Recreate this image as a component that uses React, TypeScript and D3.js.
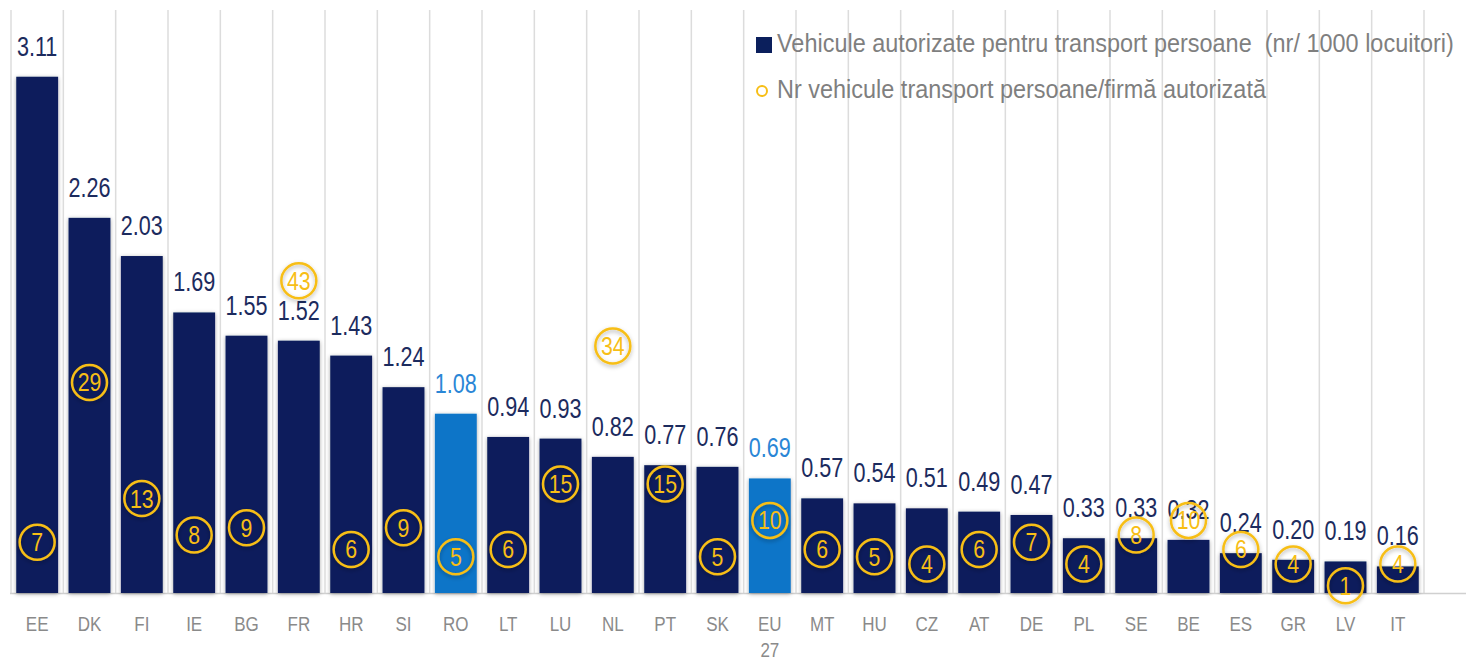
import React from "react";
import * as d3 from "d3";

const categories = ["EE","DK","FI","IE","BG","FR","HR","SI","RO","LT","LU","NL","PT","SK","EU 27","MT","HU","CZ","AT","DE","PL","SE","BE","ES","GR","LV","IT"];
const vehiclesPer1000 = [3.11,2.26,2.03,1.69,1.55,1.52,1.43,1.24,1.08,0.94,0.93,0.82,0.77,0.76,0.69,0.57,0.54,0.51,0.49,0.47,0.33,0.33,0.32,0.24,0.20,0.19,0.16];
const vehiclesPerFirm = [7,29,13,8,9,43,6,9,5,6,15,34,15,5,10,6,5,4,6,7,4,8,10,6,4,1,4];
const highlighted = ["RO","EU 27"];
const legendLabels = [
  "Vehicule autorizate pentru transport persoane  (nr/ 1000 locuitori)",
  "Nr vehicule transport persoane/firmă autorizată",
];

const W = 1466, H = 659;
const NAVY = "#0B1F5C";
const BLUE = "#0A74C8";
const YELLOW = "#F7BE16";
const FONT = "'Liberation Sans', Arial, sans-serif";

function NText({ x, y, sx, children, ...rest }: any) {
  return (
    <text transform={`translate(${x},${y}) scale(${sx},1)`} x={0} y={0} style={{ whiteSpace: "pre" }} {...rest}>{children}</text>
  );
}

export default function App() {
  const x = d3.scaleBand<string>().domain(categories).range([11, 1424]).paddingInner(0.2).paddingOuter(0.1);
  const y = d3.scaleLinear().domain([0, 3.5]).range([593, 12]);
  const y2 = d3.scaleLinear().domain([0, 80]).range([593, 12]);
  const fmt = d3.format(".2f");
  const step = x.step();
  const gridXs = d3.range(categories.length + 1).map(i => 11 + i * step);

  return (
    <svg width={W} height={H} style={{ position: "fixed", left: 0, top: 0, background: "#fff" }} fontFamily={FONT}>
      <defs>
        <filter id="barShadow" x="-20%" y="-5%" width="140%" height="110%">
          <feDropShadow dx="0" dy="1" stdDeviation="2" floodColor="#000" floodOpacity="0.35" />
        </filter>
        <filter id="glow" x="-50%" y="-50%" width="200%" height="200%">
          <feDropShadow dx="0" dy="2" stdDeviation="2" floodColor="#000" floodOpacity="0.3" />
        </filter>
      </defs>
      {gridXs.map((gx, i) => (
        <line key={"g" + i} x1={gx} x2={gx} y1={10} y2={593} stroke="#DCDCDC" strokeWidth={1.5} />
      ))}
      <line x1={10} x2={1466} y1={593.5} y2={593.5} stroke="#D0D0D0" strokeWidth={1.5} />
      {categories.map((c, i) => {
        const hl = highlighted.includes(c);
        return (
          <rect key={"b" + c} x={x(c)!} width={x.bandwidth()} y={y(vehiclesPer1000[i])} height={593 - y(vehiclesPer1000[i])}
            fill={hl ? BLUE : NAVY} filter="url(#barShadow)" />
        );
      })}
      {categories.map((c, i) => {
        const hl = highlighted.includes(c);
        return (
          <NText key={"v" + c} x={x(c)! + x.bandwidth() / 2} y={y(vehiclesPer1000[i]) - 21} sx={0.8} textAnchor="middle"
            fontSize={27} fill={hl ? "#2A86D6" : "#1C2B5E"}>{fmt(vehiclesPer1000[i])}</NText>
        );
      })}
      {categories.map((c, i) => {
        const cx = x(c)! + x.bandwidth() / 2;
        const cy = y2(vehiclesPerFirm[i]);
        return (
          <g key={"c" + c}>
            <circle cx={cx} cy={cy} r={17.5} fill="none" stroke={YELLOW} strokeWidth={2.5} filter="url(#glow)" />
            <NText x={cx} y={cy + 9} sx={0.82} textAnchor="middle" fontSize={26} fill={YELLOW}>{vehiclesPerFirm[i]}</NText>
          </g>
        );
      })}
      {categories.map(c => {
        const parts = c.split(" ");
        const cx = x(c)! + x.bandwidth() / 2;
        return (
          <g key={"l" + c}>
            {parts.map((p, j) => (
              <NText key={j} x={cx} y={631 + j * 26} sx={0.85} textAnchor="middle" fontSize={20} fill="#8A8A8A">{p}</NText>
            ))}
          </g>
        );
      })}
      <rect x={756} y={37} width={16} height={16} fill={NAVY} />
      <NText x={777} y={52} sx={0.92} fontSize={25.5} fill="#7F7F7F">{legendLabels[0]}</NText>
      <circle cx={762} cy={91} r={5} fill="none" stroke={YELLOW} strokeWidth={2} />
      <NText x={777} y={98} sx={0.92} fontSize={25.5} fill="#7F7F7F">{legendLabels[1]}</NText>
    </svg>
  );
}
